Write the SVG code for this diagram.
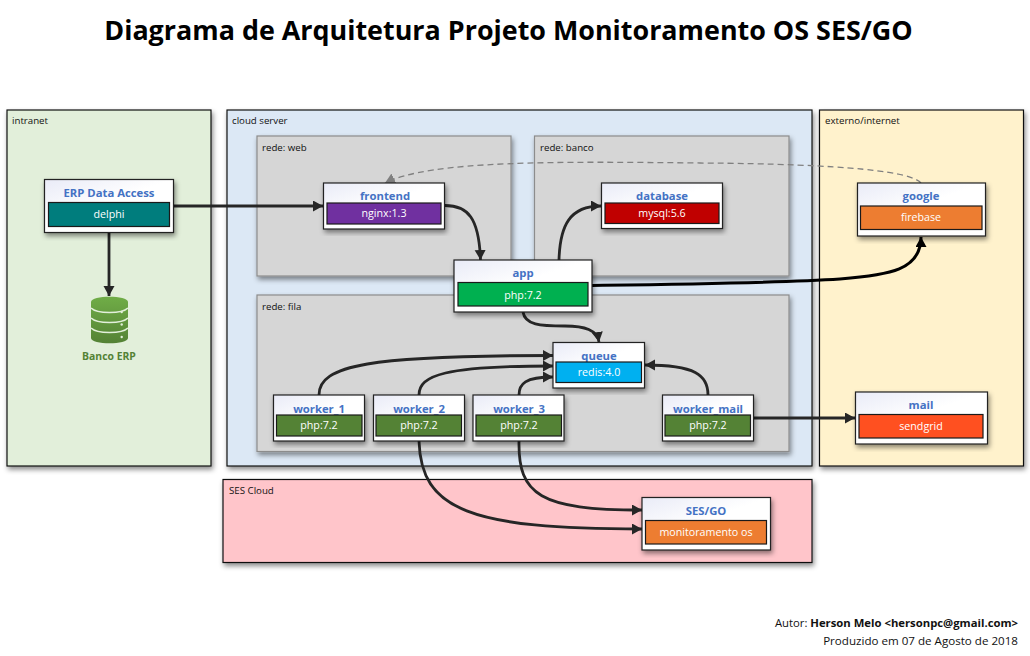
<svg xmlns="http://www.w3.org/2000/svg" width="1030" height="656" viewBox="0 0 1030 656">
<style>
text{font-family:"Open Sans","Noto Sans","DejaVu Sans",sans-serif}
.zone{stroke:#111;stroke-width:1.2}
.net{fill:#d6d6d6;stroke:#8c8c8c;stroke-width:1.2}
.box{fill:url(#hd);stroke:#222;stroke-width:1.2}
.bar{stroke:#1a1a1a;stroke-width:1.2}
.lbl{font-size:9.7px;fill:#111}
.tt{font-size:11.300px;font-weight:700;fill:#4472c4;text-anchor:middle}
.st{font-size:10.700px;fill:#fff;text-anchor:middle}
.c{fill:none;stroke:#262626;stroke-width:2.800}
.ft{fill:#111;text-anchor:end}
</style>
<defs>
<linearGradient id="hd" x1="0" y1="0" x2="0.6" y2="0.7"><stop offset="0" stop-color="#e9ebf7"/><stop offset="0.7" stop-color="#fff"/></linearGradient>
<filter id="sh" x="-10%" y="-10%" width="120%" height="125%"><feDropShadow dx="1.5" dy="3" stdDeviation="2.500" flood-color="#000" flood-opacity="0.45"/></filter>
<marker id="a" markerUnits="userSpaceOnUse" markerWidth="12" markerHeight="12" refX="10" refY="5.500" orient="auto"><path d="M0 0L10 5.500L0 11z" fill="#262626"/></marker>
<marker id="b" markerUnits="userSpaceOnUse" markerWidth="12" markerHeight="12" refX="10" refY="5.500" orient="auto"><path d="M0 0L10 5.500L0 11z" fill="#000"/></marker>
<marker id="g" markerUnits="userSpaceOnUse" markerWidth="12" markerHeight="12" refX="10" refY="5.500" orient="auto"><path d="M0 0L10 5.500L0 11z" fill="#808080"/></marker>
<linearGradient id="dbg" x1="0" y1="0" x2="0" y2="1"><stop offset="0" stop-color="#70ad47"/><stop offset="1" stop-color="#548235"/></linearGradient>
</defs>
<text x="508.500" y="39.500" font-size="26.900" font-weight="700" fill="#000" text-anchor="middle">Diagrama de Arquitetura Projeto Monitoramento OS SES/GO</text>

<g id="zones">
<g id="intranet"><rect class="zone" x="7" y="110" width="204" height="356" fill="#e2efda" filter="url(#sh)"/><text class="lbl" x="12" y="124">intranet</text></g>
<g id="cloud-server"><rect class="zone" x="227" y="110" width="585" height="356" fill="#dce8f5" filter="url(#sh)"/><text class="lbl" x="232" y="124">cloud server</text></g>
<g id="externo"><rect class="zone" x="819.500" y="110" width="204" height="356" fill="#fff2cc" filter="url(#sh)"/><text class="lbl" x="825" y="124">externo/internet</text></g>
<g id="ses-cloud"><rect class="zone" x="223" y="479.500" width="589" height="83" fill="#ffc5ca" filter="url(#sh)"/><text class="lbl" x="229" y="494">SES Cloud</text></g>
<g id="rede-web"><rect class="net" x="257" y="136" width="254" height="140" filter="url(#sh)"/><text class="lbl" x="262" y="151">rede: web</text></g>
<g id="rede-banco"><rect class="net" x="534.500" y="136" width="254.500" height="140" filter="url(#sh)"/><text class="lbl" x="540" y="151">rede: banco</text></g>
<g id="rede-fila"><rect class="net" x="257" y="295" width="532" height="156.500" filter="url(#sh)"/><text class="lbl" x="262" y="310">rede: fila</text></g>
</g>

<g id="connectors">
<path d="M921 183C912 172 850 164 700 163C560 161.500 430 160 385 183" fill="none" stroke="#808080" stroke-width="1.300" stroke-dasharray="6 4" marker-end="url(#g)"/>
<path class="c" d="M173 206H323" marker-end="url(#a)"/>
<path class="c" d="M109 232V296" marker-end="url(#a)"/>
<path class="c" d="M445 205.500C468 205.500 479 218 480.500 260" marker-end="url(#a)"/>
<path class="c" d="M559 260C560 225 570 206 601 206" marker-end="url(#a)"/>
<path d="M592 285.500C700 284 780 283 840 279C890 275 921 270 921 237" fill="none" stroke="#000" stroke-width="3" marker-end="url(#b)"/>
<path class="c" d="M523 312C525 325 540 326 565 326C585 326 597 330 599 342" marker-end="url(#a)"/>
<path class="c" d="M319 395C319 365 370 355.500 553 355.500" marker-end="url(#a)"/>
<path class="c" d="M419 395C419 375 445 366 553 366" marker-end="url(#a)"/>
<path class="c" d="M519 395C519 384 525 377 553 377" marker-end="url(#a)"/>
<path class="c" d="M708 395C708 375 695 365 645 365" marker-end="url(#a)"/>
<path class="c" d="M753 418H855" marker-end="url(#a)"/>
<path class="c" d="M419 441C421 510 470 529 642 529" marker-end="url(#a)"/>
<path class="c" d="M519 441C518 495 540 510 642 510" marker-end="url(#a)"/>
</g>

<g id="banco-erp">
<path d="M91 302C91 295 128 295 128 302V338C128 345 91 345 91 338z" fill="url(#dbg)"/>
<path d="M91 308C97 314 122 314 128 308M91 318C97 324 122 324 128 318M91 328C97 334 122 334 128 328" fill="none" stroke="#e2efda" stroke-width="1.600"/>
<circle cx="121.700" cy="312" r="1.200" fill="#e2efda"/><circle cx="121.700" cy="324.500" r="1.200" fill="#e2efda"/><circle cx="121.700" cy="337" r="1.200" fill="#e2efda"/>
<text x="109" y="360" font-size="10.400" font-weight="700" fill="#548235" text-anchor="middle">Banco ERP</text>
</g>

<g id="erp"><rect class="box" x="44.500" y="179.500" width="129" height="53" filter="url(#sh)"/><text class="tt" x="109" y="197">ERP Data Access</text><rect class="bar" x="48.500" y="202.500" width="121" height="24" fill="#007d7d"/><text class="st" x="109" y="218">delphi</text></g>
<g id="frontend"><rect class="box" x="323.500" y="183" width="121" height="46" filter="url(#sh)"/><text class="tt" x="385" y="200">frontend</text><rect class="bar" x="327" y="203" width="114" height="21" fill="#7030a0"/><text class="st" x="384" y="217">nginx:1.3</text></g>
<g id="database"><rect class="box" x="601.500" y="183" width="121" height="45.500" filter="url(#sh)"/><text class="tt" x="662" y="200">database</text><rect class="bar" x="605" y="203" width="114" height="20.500" fill="#c00000"/><text class="st" x="662" y="217">mysql:5.6</text></g>
<g id="google"><rect class="box" x="857.500" y="183" width="128" height="53" filter="url(#sh)"/><text class="tt" x="921" y="200">google</text><rect class="bar" x="860.500" y="206" width="121.500" height="23.500" fill="#ed7d31"/><text class="st" x="921" y="221">firebase</text></g>
<g id="app"><rect class="box" x="454" y="260" width="138" height="52" filter="url(#sh)"/><text class="tt" x="523" y="277">app</text><rect class="bar" x="458" y="282.500" width="130" height="23.500" fill="#00b050"/><text class="st" x="523" y="299">php:7.2</text></g>
<g id="queue"><rect class="box" x="553" y="342.500" width="91.500" height="45.500" filter="url(#sh)"/><text class="tt" x="599" y="360">queue</text><rect class="bar" x="556" y="362" width="85.500" height="20.500" fill="#00b0f0"/><text class="st" x="599" y="376">redis:4.0</text></g>
<g id="worker_1"><rect class="box" x="273.500" y="395" width="91" height="46" filter="url(#sh)"/><text class="tt" x="319" y="413">worker_1</text><rect class="bar" x="276.500" y="415" width="85.500" height="21" fill="#548235"/><text class="st" x="319" y="429">php:7.2</text></g>
<g id="worker_2"><rect class="box" x="373.500" y="395" width="91" height="46" filter="url(#sh)"/><text class="tt" x="419" y="413">worker_2</text><rect class="bar" x="376" y="415" width="85.500" height="21" fill="#548235"/><text class="st" x="419" y="429">php:7.2</text></g>
<g id="worker_3"><rect class="box" x="473" y="395" width="91" height="46" filter="url(#sh)"/><text class="tt" x="519" y="413">worker_3</text><rect class="bar" x="476" y="415" width="85.500" height="21" fill="#548235"/><text class="st" x="519" y="429">php:7.2</text></g>
<g id="worker_mail"><rect class="box" x="662.500" y="395" width="91" height="46" filter="url(#sh)"/><text class="tt" x="708" y="413">worker_mail</text><rect class="bar" x="665" y="415" width="85.500" height="21" fill="#548235"/><text class="st" x="708" y="429">php:7.2</text></g>
<g id="mail"><rect class="box" x="855.500" y="392" width="132" height="52" filter="url(#sh)"/><text class="tt" x="921" y="409">mail</text><rect class="bar" x="859" y="414.500" width="124" height="23.500" fill="#ff5020"/><text class="st" x="921" y="430">sendgrid</text></g>
<g id="ses-go"><rect class="box" x="642" y="497.500" width="128.500" height="52.500" filter="url(#sh)"/><text class="tt" x="706" y="515">SES/GO</text><rect class="bar" x="645.500" y="520.500" width="121" height="23.500" fill="#ed7d31"/><text class="st" x="706" y="536">monitoramento os</text></g>

<g id="footer">
<text class="ft" x="1018" y="627" font-size="11.300">Autor: <tspan font-weight="700">Herson Melo &lt;hersonpc@gmail.com&gt;</tspan></text>
<text class="ft" x="1018" y="645" font-size="11.600">Produzido em 07 de Agosto de 2018</text>
</g>
</svg>
